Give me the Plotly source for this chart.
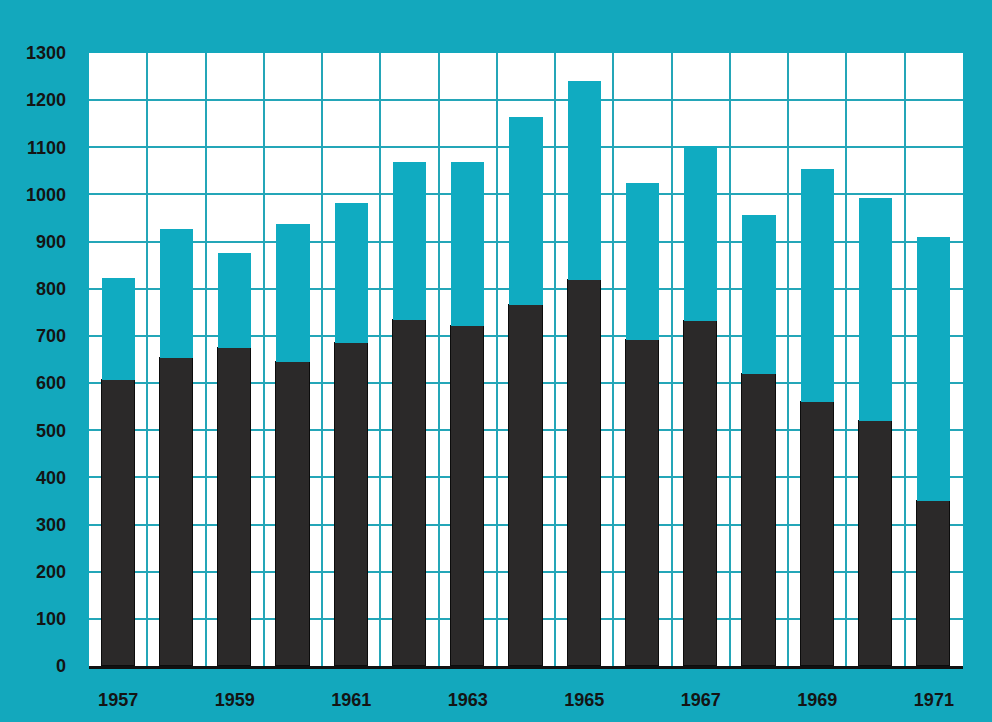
import plotly.graph_objects as go

# Annual figures, 1957-1971: lower (dark) segment and upper (teal) segment
years = list(range(1957, 1972))
lower = [606, 654, 675, 644, 684, 734, 722, 766, 819, 692, 732, 620, 559, 519, 350]
upper = [217, 272, 201, 293, 297, 334, 346, 399, 422, 332, 370, 336, 496, 473, 560]

y_ticks = list(range(0, 1301, 100))
x_ticks = [1957, 1959, 1961, 1963, 1965, 1967, 1969, 1971]

TEAL_BG = "#13a8bd"
TEAL_BAR = "#10abc1"
GRID = "#24a6b8"
DARK = "#2b2929"

fig = go.Figure()
fig.add_trace(go.Bar(
    x=years, y=lower, width=0.57,
    marker=dict(color=DARK, line=dict(color="#0c0c0c", width=1.5)),
    hoverinfo="x+y", showlegend=False,
))
fig.add_trace(go.Bar(
    x=years, y=upper, width=0.57,
    marker=dict(color=TEAL_BAR, line=dict(width=0)),
    hoverinfo="x+y", showlegend=False,
))

label_font = dict(family="Liberation Sans, Arial, sans-serif", size=18,
                  color="#141414", weight="bold")

fig.update_layout(
    width=992, height=722,
    barmode="stack",
    paper_bgcolor=TEAL_BG,
    plot_bgcolor="white",
    margin=dict(l=89, r=29, t=53, b=53),
    xaxis=dict(
        range=[1956.5, 1971.5],
        tickmode="array", tickvals=x_ticks, ticktext=[str(v) for v in x_ticks],
        showgrid=False, zeroline=False,
        showline=True, linecolor="#111111", linewidth=3,
        ticks="outside", ticklen=0, ticklabelstandoff=15,
        tickfont=label_font,
        minor=dict(tickmode="linear", tick0=1956.5, dtick=1, showgrid=True,
                   gridcolor=GRID, gridwidth=1.5, ticks=""),
        fixedrange=True,
    ),
    yaxis=dict(
        range=[0, 1300],
        tickmode="array", tickvals=y_ticks, ticktext=[str(v) for v in y_ticks],
        showgrid=True, gridcolor=GRID, gridwidth=1.5,
        zeroline=False, showline=False,
        ticks="", ticklabelstandoff=22,
        tickfont=label_font,
        fixedrange=True,
    ),
    bargap=0,
)

fig.write_html("out.html")
